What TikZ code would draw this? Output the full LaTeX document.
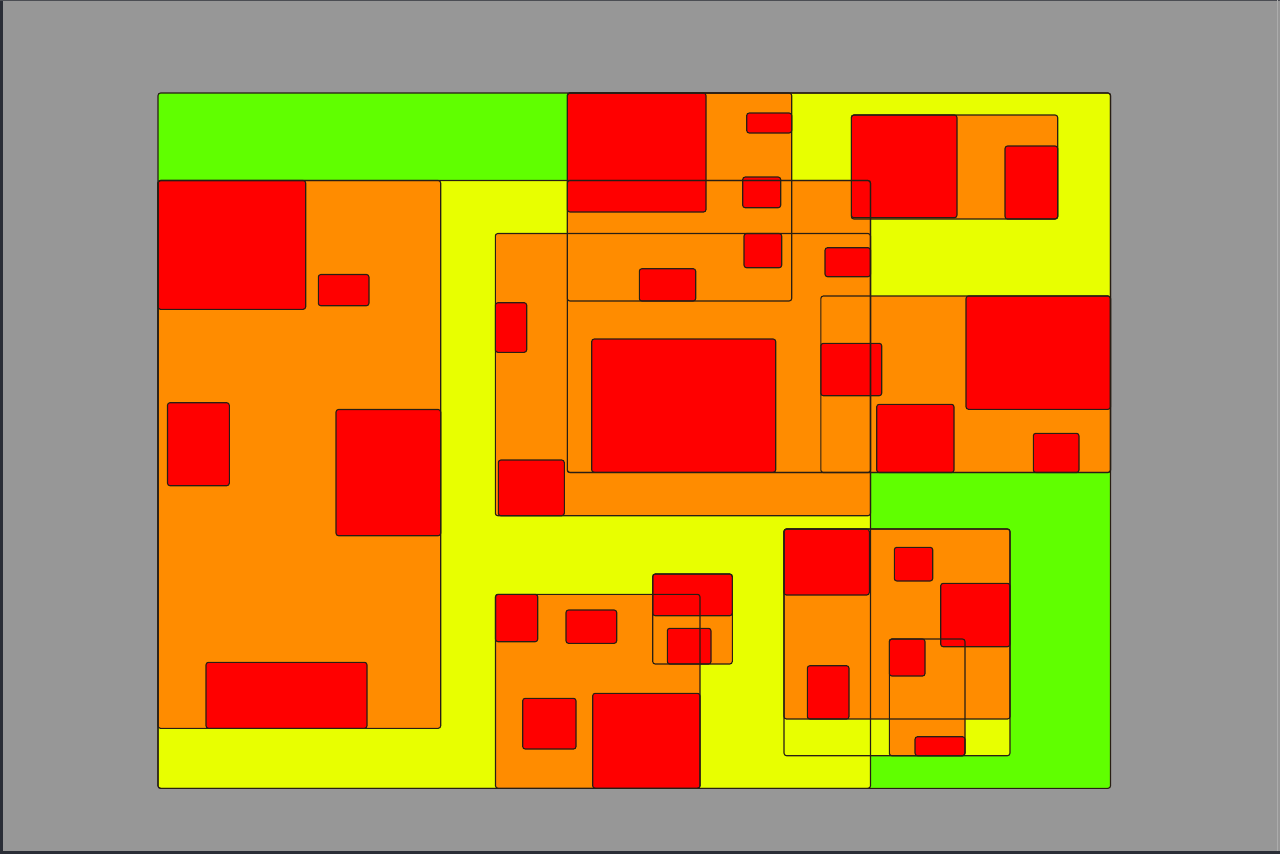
\documentclass[tikz,border=0pt]{standalone}
\usepackage{tikz}
\definecolor{bggray}{RGB}{151,151,151}
\definecolor{edgedark}{RGB}{42,45,54}
\definecolor{lvgreen}{RGB}{96,255,0}
\definecolor{lvyellow}{RGB}{232,255,0}
\definecolor{lvorange}{RGB}{255,140,0}
\definecolor{lvred}{RGB}{255,0,0}
\definecolor{boxline}{RGB}{40,30,20}
\tikzset{
  box/.style={rounded corners=0.75pt},
  boxedge/.style={box, draw=boxline, line width=0.33pt}
}
\def\greenlist{158/93/1110.5/788.3}
\def\yellowlist{158/180.5/870.5/788.3, 567.3/93/1110.5/472.5, 784/529/1010/755.7}
\def\orangelist{158/180.5/440.7/728.3, 567.3/93/791.7/301, 851.3/115/1057.7/219, 567.3/180.5/870.5/472.5, 495.3/233.5/870.5/515.7, 820.8/296/1110.5/472.5, 495.5/594.3/700/788.3, 652.7/574/732.3/664, 784/529/1010/719, 889.3/639/965/755.7}
\def\redlist{158/180.5/305.7/309.3, 318.3/274.5/369/305.7, 167.5/402.7/229.3/485.7, 336/409.5/440.7/535.7, 206/662.3/367/728.3,
567.3/93/706/212, 746.7/113/791.7/133, 742.7/177/780.7/207.7, 744/233.5/781.7/267.7, 639.3/268.7/695.7/301,
851.3/115/957/217.7, 1005/146/1057.7/219,
825/247.7/870.5/276.7, 495.3/302.7/526.7/352.3, 591.7/339/775.7/472.3, 498.3/460/564.3/515.7, 820.8/343.3/881.7/395.7,
966/296/1110.5/409.3, 876.7/404.3/954/472.5, 1033.3/433.3/1079/472.5,
495.5/594.3/537.7/641.7, 566/610/616.7/643.3, 522.7/698.3/576/749, 592.7/693.3/700/788.3,
652.7/574/732.3/615.7, 667.3/628.3/711/664,
784/529/869.3/595, 894.3/547.3/932.7/581, 940.7/583.3/1010/646.7, 807.3/665.7/849/719,
889.3/639/925/676, 915/736.7/965/755.7}
\edef\alllist{\greenlist,\yellowlist,\orangelist,\redlist}
\begin{document}
\begin{tikzpicture}[x=0.3pt,y=-0.3pt]
  \useasboundingbox (0,0) rectangle (1280,854);
  \fill[bggray] (0,0) rectangle (1280,854);
  \fill[edgedark] (0,0) rectangle (3,854);
  \fill[edgedark] (0,851) rectangle (1280,854);
  \fill[edgedark!70!bggray] (0,0) rectangle (1280,1.2);
  \fill[bggray!80!white] (1276.5,0) rectangle (1278,851);
  % fills, level by level
  \foreach \a/\b/\c/\d in \greenlist {\fill[lvgreen,box] (\a,\b) rectangle (\c,\d);}
  \foreach \a/\b/\c/\d in \yellowlist {\fill[lvyellow,box] (\a,\b) rectangle (\c,\d);}
  \foreach \a/\b/\c/\d in \orangelist {\fill[lvorange,box] (\a,\b) rectangle (\c,\d);}
  \foreach \a/\b/\c/\d in \redlist {\fill[lvred,box] (\a,\b) rectangle (\c,\d);}
  % outlines on top
  \foreach \a/\b/\c/\d in \alllist {\draw[boxedge] (\a,\b) rectangle (\c,\d);}
\end{tikzpicture}
\end{document}
